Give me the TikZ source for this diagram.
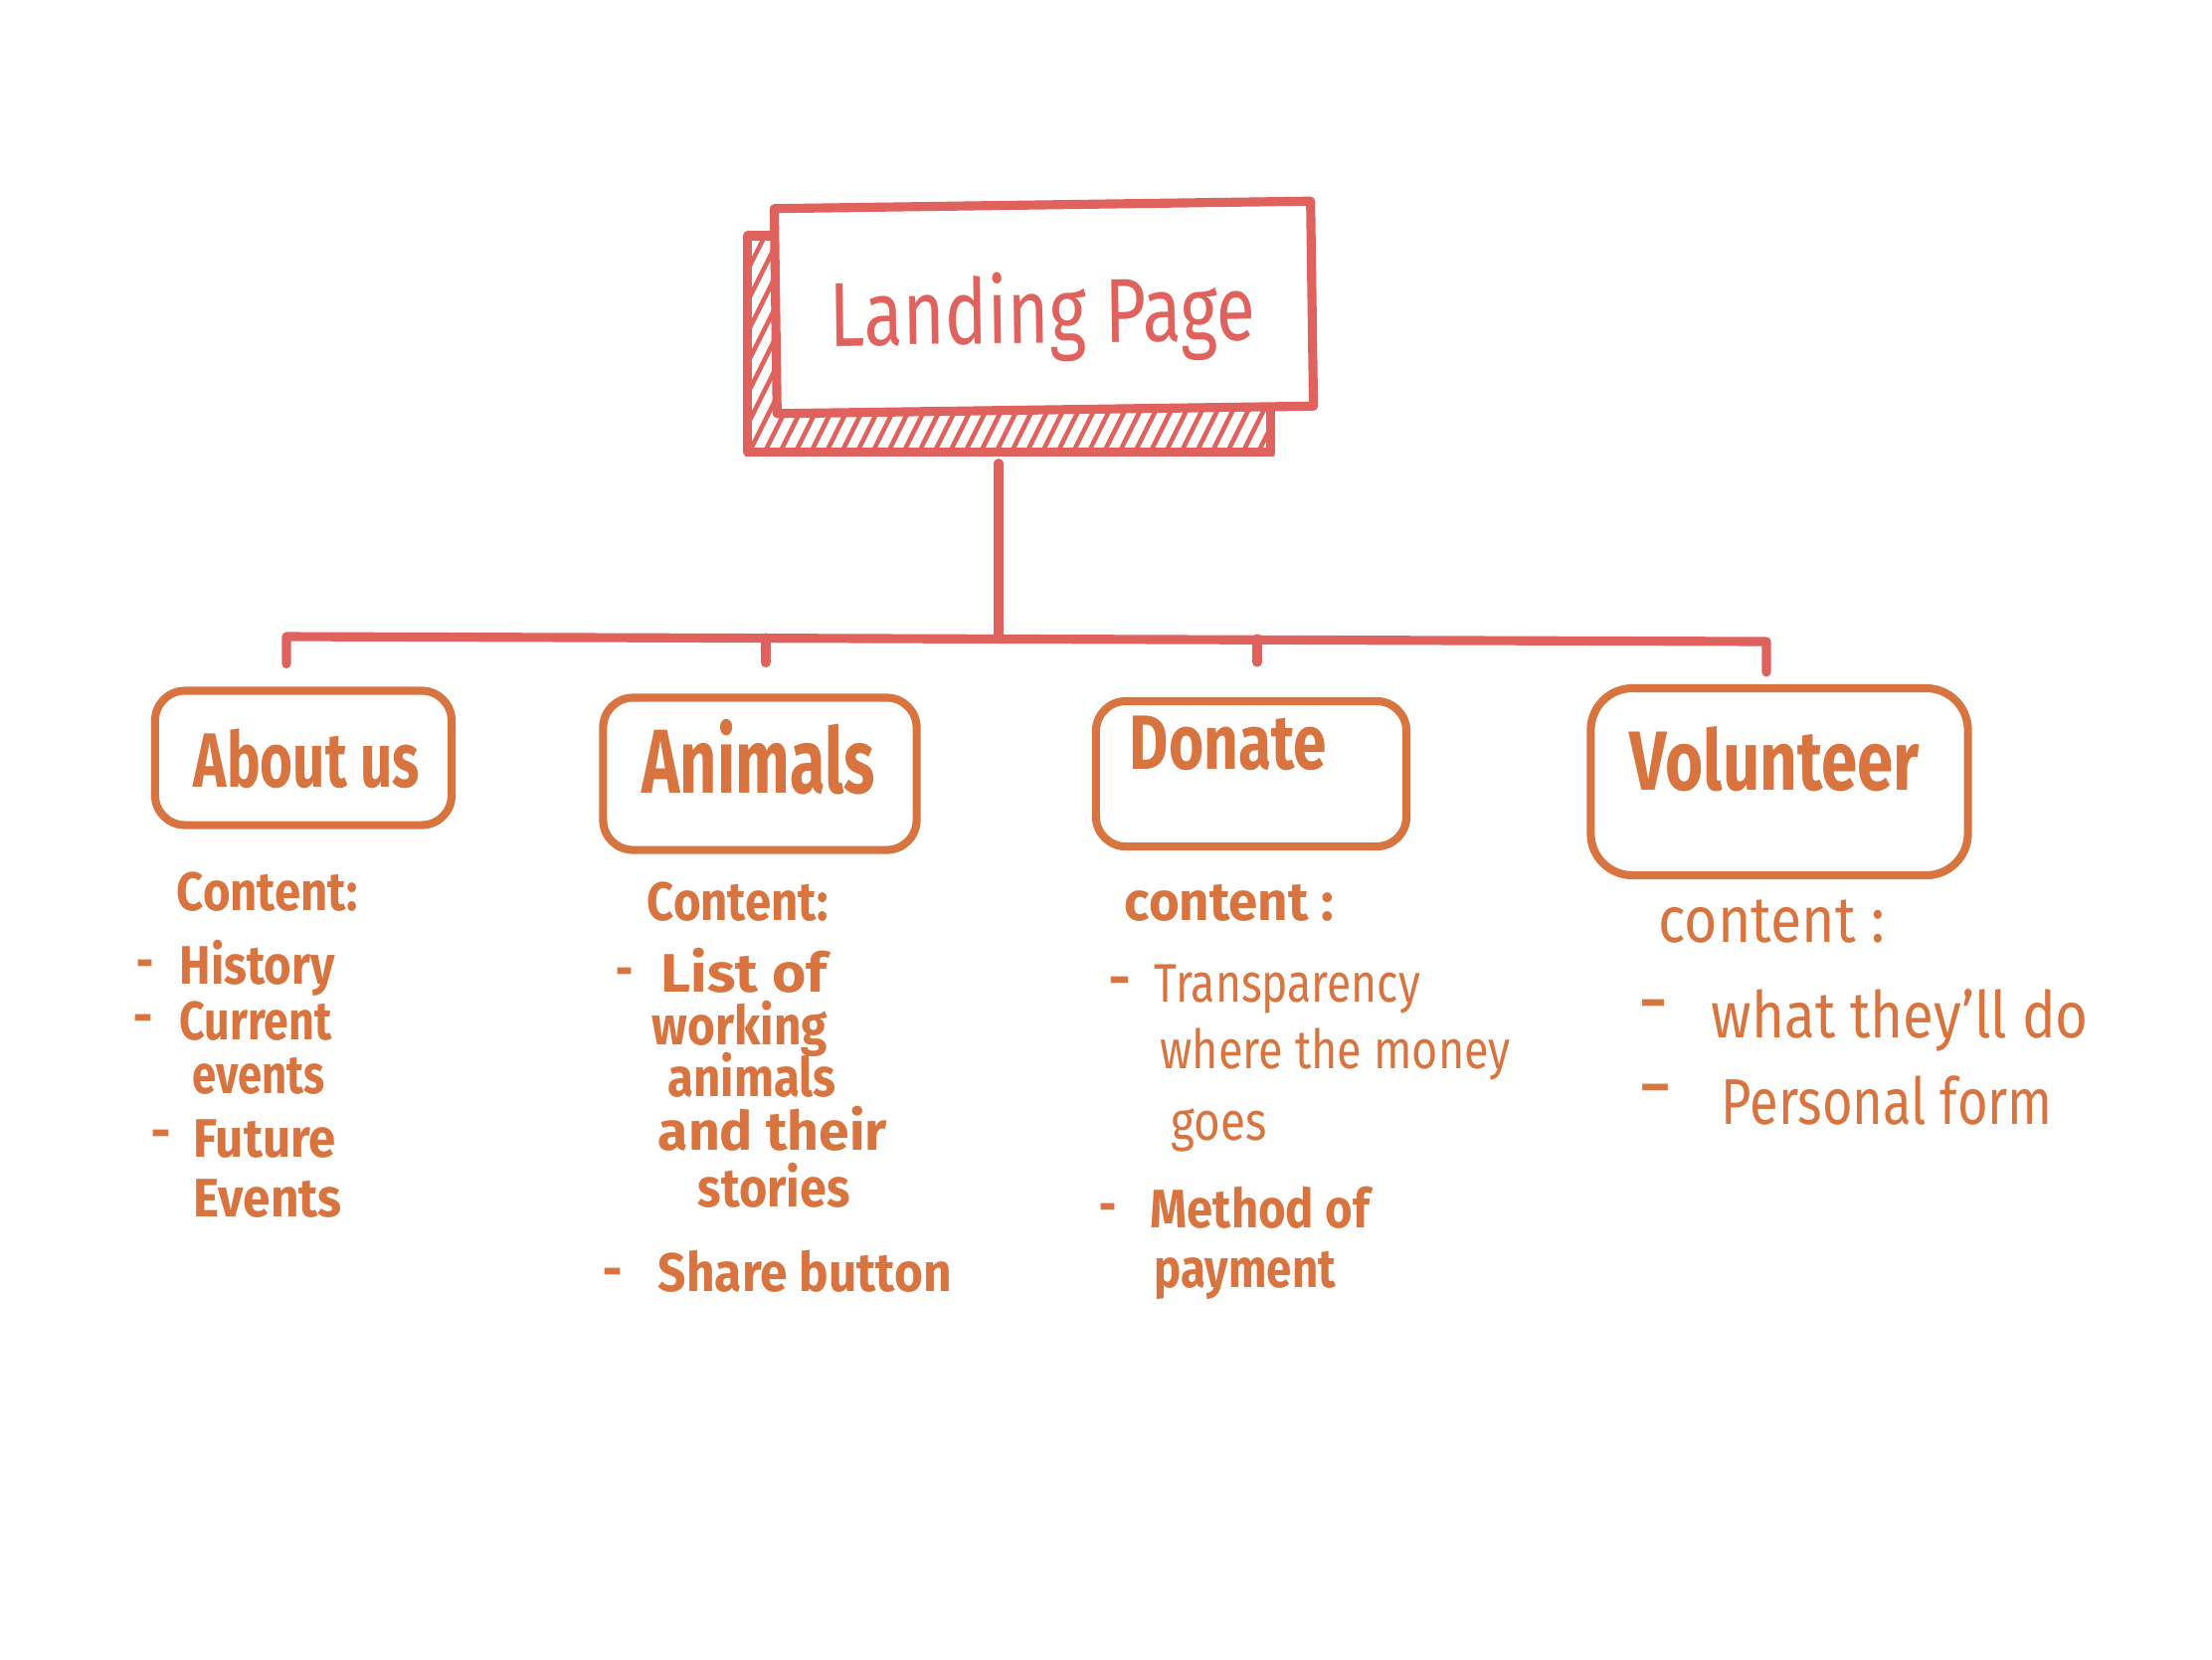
\documentclass[tikz,border=0pt]{standalone}
\usepackage{fontspec}
\setmainfont{Fira Sans}
\usetikzlibrary{calc}
\definecolor{rcol}{HTML}{E0625E}
\definecolor{ocol}{HTML}{D8743F}
\newcommand{\fw}[2]{\resizebox{#1}{\height}{#2}}
\newcommand{\dw}[1]{\resizebox{#1}{\height}{\bfseries –}}
\begin{document}
\begin{tikzpicture}[x=0.01cm,y=-0.01cm,
 rline/.style={draw=rcol, line width=2.6pt, line cap=round, line join=round},
 rbox/.style={draw=rcol, line width=2.6pt, inner sep=0pt, line join=round},
 obox/.style={draw=ocol, line width=2.3pt, rounded corners=0.3cm, inner sep=0pt},
 hatch/.style={draw=rcol, line width=1.3pt, line cap=round},
 lpt/.style={text=rcol, inner sep=0pt, anchor=base west, font=\fontsize{26}{30}\selectfont},
 ttl/.style={text=ocol, inner sep=0pt, anchor=base west, font=\bfseries\fontsize{22}{26}\selectfont},
 cb/.style={text=ocol, inner sep=0pt, anchor=base west, font=\bfseries\fontsize{15.5}{18}\selectfont},
 cr/.style={text=ocol, inner sep=0pt, anchor=base west, font=\fontsize{15.5}{18}\selectfont},
 cv/.style={text=ocol, inner sep=0pt, anchor=base west, font=\fontsize{18.5}{22}\selectfont},
 dsh/.style={text=ocol, inner sep=0pt, anchor=base west, font=\fontsize{15.5}{18}\selectfont},
]
\fill[white] (0,0) rectangle (2224,1668);
\useasboundingbox (0,0) rectangle (2224,1668);

% Landing page shadow with hatching
\node[rbox, minimum width=5.25cm, minimum height=2.17cm] (lps) at (1014.5,345.5) {};
\begin{scope}
 \clip (lps.south west) rectangle (lps.north east);
 \foreach \k in {0,...,42} \draw[hatch] ([xshift=\k*0.155cm-1.2cm]lps.south west) -- ++(120,-240);
\end{scope}
% Landing page main box
\node[rbox, fill=white, rotate=0.8, minimum width=5.39cm, minimum height=2.06cm] (lp) at (1049.5,309) {};
\node[lpt, rotate=0.8] (lpt) at (834,348) {\fw{4.28cm}{Landing Page}};

% section boxes
\node[obox, minimum width=2.98cm, minimum height=1.35cm] (about) at (305,762) {};
\node[obox, minimum width=3.15cm, minimum height=1.53cm] (anim) at (764,778) {};
\node[obox, minimum width=3.12cm, minimum height=1.46cm] (don) at (1258,778) {};
\node[obox, rounded corners=0.42cm, minimum width=3.79cm, minimum height=1.88cm] (vol) at (1789,786) {};

\node[ttl] (aboutt) at (194,791) {\fw{2.27cm}{About us}};
\node[ttl, font=\bfseries\fontsize{26}{30}\selectfont] (animt) at (645,797) {\fw{2.34cm}{Animals}};
\node[ttl] (dont) at (1135,773) {\fw{1.98cm}{Donate}};
\node[ttl, font=\bfseries\fontsize{24}{28}\selectfont] (volt) at (1638,794) {\fw{2.91cm}{Volunteer}};

% connectors
\coordinate (hub) at (1004,641);
\coordinate (dA) at (288,640);
\coordinate (dN) at (770,641);
\coordinate (dD) at (1264,642);
\coordinate (dV) at (1776,645);
\draw[rline, shorten <=0.07cm] (lps.south -| hub) -- (hub);
\draw[rline, shorten <=0.23cm, shorten >=0.12cm] (dA |- about.north) -- (dA) -- (dV) -- (dV |- vol.north);
\draw[rline, shorten >=0.31cm] (dN) -- (dN |- anim.north);
\draw[rline, shorten >=0.35cm] (dD) -- (dD |- don.north);

% About us content
\node[cb] (a0) at (177,915) {\fw{1.82cm}{Content:}};
\node[dsh] (a1d) at (138,985) {\dw{0.15cm}};
\node[cb] (a1) at (180,989) {\fw{1.56cm}{History}};
\node[dsh] (a2d) at (135,1040) {\dw{0.17cm}};
\node[cb] (a2) at (180,1045) {\fw{1.53cm}{Current}};
\node[cb] (a3) at (193,1099) {\fw{1.33cm}{events}};
\node[dsh] (a4d) at (153,1156) {\dw{0.17cm}};
\node[cb] (a4) at (194,1163) {\fw{1.43cm}{Future}};
\node[cb] (a5) at (194,1223) {\fw{1.49cm}{Events}};

% Animals content
\node[cb] (n0) at (650,925) {\fw{1.82cm}{Content:}};
\node[dsh] (n1d) at (620,993) {\dw{0.15cm}};
\node[cb] (n1) at (664,997) {\fw{1.67cm}{List of}};
\node[cb] (n2) at (655,1050) {\fw{1.76cm}{working}};
\node[cb] (n3) at (671,1102) {\fw{1.69cm}{animals}};
\node[cb] (n4) at (661,1156) {\fw{2.30cm}{and their}};
\node[cb] (n5) at (701,1213) {\fw{1.53cm}{stories}};
\node[dsh] (n6d) at (607,1295) {\dw{0.17cm}};
\node[cb] (n6) at (661,1298) {\fw{2.95cm}{Share button}};

% Donate content
\node[cb] (d0) at (1130,925) {\fw{2.10cm}{content :}};
\node[dsh] (d1d) at (1116,1002) {\dw{0.19cm}};
\node[cr] (d1) at (1160,1007) {\fw{2.67cm}{Transparency}};
\node[cr] (d2) at (1166,1074) {\fw{3.52cm}{where the money}};
\node[cr] (d3) at (1177,1146) {\fw{0.96cm}{goes}};
\node[dsh] (d4d) at (1106,1230) {\dw{0.15cm}};
\node[cb] (d4) at (1156,1234) {\fw{2.20cm}{Method of}};
\node[cb] (d5) at (1160,1294) {\fw{1.82cm}{payment}};

% Volunteer content
\node[cv] (v0) at (1667,947) {\fw{2.27cm}{content :}};
\node[dsh] (v1d) at (1650,1025) {\dw{0.24cm}};
\node[cv] (v1) at (1720,1043) {\fw{3.79cm}{what they’ll do}};
\node[dsh] (v2d) at (1650,1110) {\dw{0.28cm}};
\node[cv] (v2) at (1730,1130) {\fw{3.33cm}{Personal form}};
\end{tikzpicture}
\end{document}
